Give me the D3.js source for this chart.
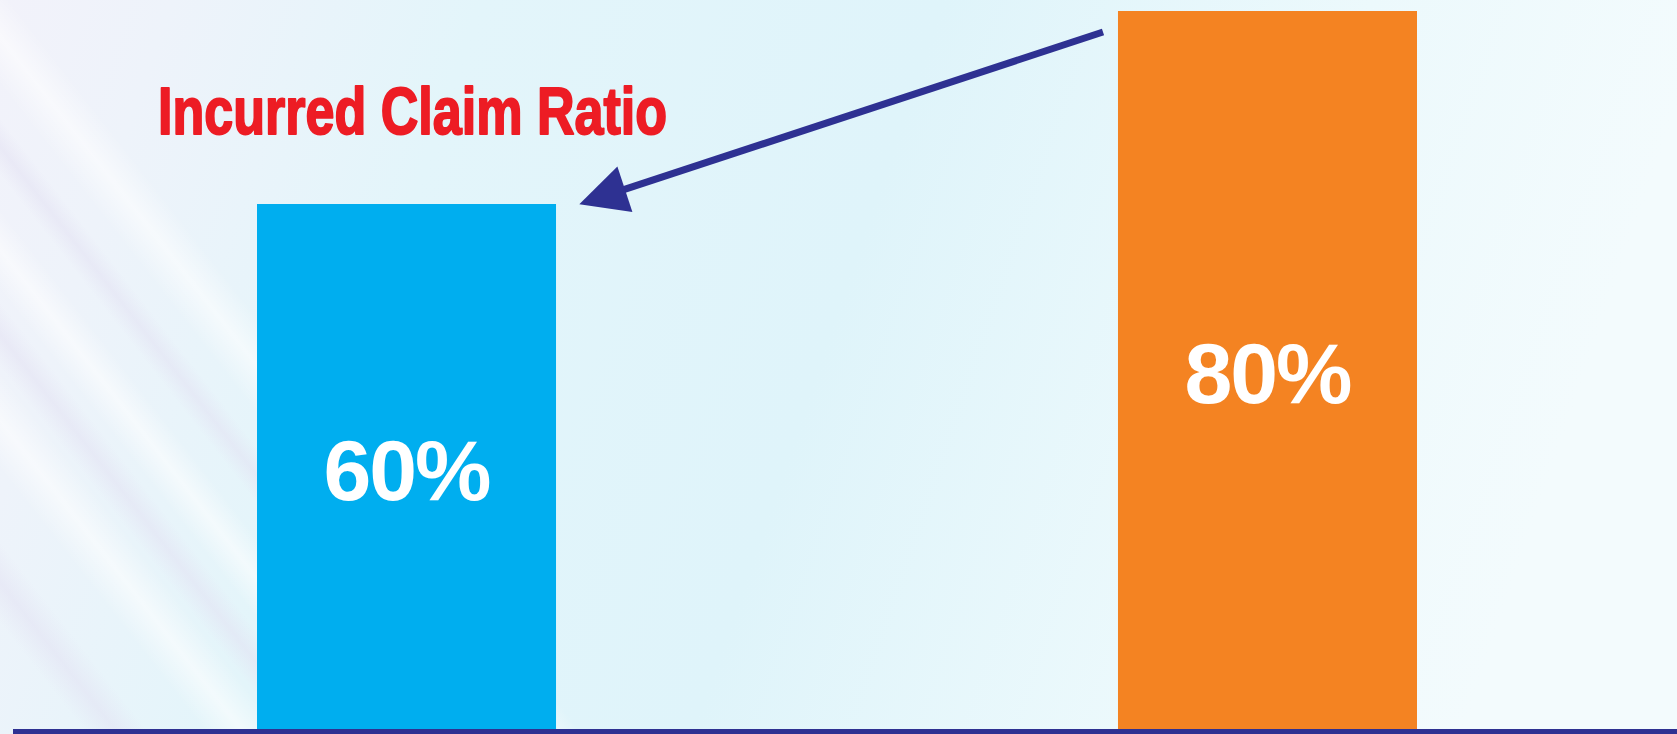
<!DOCTYPE html>
<html>
<head>
<meta charset="utf-8">
<script src="https://cdn.jsdelivr.net/npm/d3@7"></script>
<style>
  html, body { margin: 0; padding: 0; overflow: hidden; background: #eaf7fb; }
  svg { display: block; }
</style>
</head>
<body>
<svg id="chart" width="1677" height="734"></svg>
<script>
// ---- data ----
const categories = ["Bar 1", "Bar 2"];
const values = [60, 80];
const valueLabels = ["60%", "80%"];
const barColors = ["#00aeef", "#f48322"];
const titleText = "Incurred Claim Ratio";

// ---- layout ----
const W = 1677, H = 734;
const baseY = 729;
const svg = d3.select("#chart");
const defs = svg.append("defs");

// background gradient
const bg = defs.append("linearGradient").attr("id", "bg").attr("x1", "0").attr("y1", "0").attr("x2", "1").attr("y2", "0.15");
[["0", "#f2f2fa"], ["0.1", "#eef3fa"], ["0.28", "#e3f5fa"], ["0.55", "#dff4fa"], ["0.8", "#ecf9fc"], ["1", "#f3fbfd"]]
  .forEach(([o, c]) => bg.append("stop").attr("offset", o).attr("stop-color", c));
svg.append("rect").attr("width", W).attr("height", H).attr("fill", "url(#bg)");

// soft diagonal streaks on the left
const streak = defs.append("linearGradient").attr("id", "streak").attr("x1", "0").attr("y1", "0").attr("x2", "1").attr("y2", "0");
streak.append("stop").attr("offset", "0").attr("stop-color", "#ffffff").attr("stop-opacity", 0);
streak.append("stop").attr("offset", "0.5").attr("stop-color", "#ffffff").attr("stop-opacity", 0.55);
streak.append("stop").attr("offset", "1").attr("stop-color", "#ffffff").attr("stop-opacity", 0);
const purple = defs.append("linearGradient").attr("id", "purple").attr("x1", "0").attr("y1", "0").attr("x2", "1").attr("y2", "0");
purple.append("stop").attr("offset", "0").attr("stop-color", "#e2e0f2").attr("stop-opacity", 0);
purple.append("stop").attr("offset", "0.5").attr("stop-color", "#e2e0f2").attr("stop-opacity", 0.5);
purple.append("stop").attr("offset", "1").attr("stop-color", "#e2e0f2").attr("stop-opacity", 0);
const streaks = svg.append("g");
[[-80, 60, "url(#streak)"], [0, 40, "url(#purple)"], [60, 50, "url(#streak)"], [150, 35, "url(#purple)"], [220, 60, "url(#streak)"], [-200, 50, "url(#purple)"]]
  .forEach(([sx, w, f]) => {
    streaks.append("rect").attr("x", sx).attr("y", -300).attr("width", w).attr("height", 1400)
      .attr("fill", f).attr("transform", `rotate(-38, ${sx}, 367)`);
  });

// scales
const x = d3.scaleBand().domain(categories).range([257, 1417]).paddingInner(0.6527).paddingOuter(0);
const y = d3.scaleLinear().domain([5.6, 81.14]).range([baseY, 0]);

// bars
svg.append("g").selectAll("rect").data(values).join("rect")
  .attr("x", (d, i) => x(categories[i]))
  .attr("y", d => y(d))
  .attr("width", x.bandwidth())
  .attr("height", d => baseY - y(d))
  .attr("fill", (d, i) => barColors[i]);

// value labels
const labelBaseline = [500, 403];
svg.append("g").selectAll("text").data(values).join("text")
  .attr("x", (d, i) => x(categories[i]) + x.bandwidth() / 2)
  .attr("y", (d, i) => labelBaseline[i])
  .attr("text-anchor", "middle")
  .style("font-family", "Liberation Sans, Arial, Helvetica, sans-serif")
  .style("font-weight", "700")
  .style("font-size", "86px")
  .style("letter-spacing", "-2px")
  .attr("fill", "#ffffff")
  .text((d, i) => valueLabels[i]);

// axis baseline
svg.append("rect").attr("x", 13).attr("y", baseY).attr("width", W - 13).attr("height", 5).attr("fill", "#2e3192");

// title
svg.append("text")
  .attr("x", 158).attr("y", 134)
  .style("font-family", "Liberation Sans, Arial, Helvetica, sans-serif")
  .style("font-weight", "700")
  .style("font-size", "66px")
  .attr("textLength", 509)
  .attr("lengthAdjust", "spacingAndGlyphs")
  .attr("fill", "#ed1c24")
  .attr("stroke", "#ed1c24")
  .attr("stroke-width", 2)
  .attr("stroke-linejoin", "round")
  .text(titleText);

// arrow from orange bar to blue bar
const tip = [579.3, 204.3];
const start = [1103, 32];
const ang = Math.atan2(start[1] - tip[1], start[0] - tip[0]);
const headLen = 48, headHalf = 24;
const bx = tip[0] + headLen * Math.cos(ang), by = tip[1] + headLen * Math.sin(ang);
const px = -Math.sin(ang) * headHalf, py = Math.cos(ang) * headHalf;
svg.append("line")
  .attr("x1", start[0]).attr("y1", start[1])
  .attr("x2", bx - 10 * Math.cos(ang)).attr("y2", by - 10 * Math.sin(ang))
  .attr("stroke", "#2e3192").attr("stroke-width", 7);
svg.append("path")
  .attr("d", `M${tip[0]},${tip[1]} L${bx + px},${by + py} L${bx - px},${by - py} Z`)
  .attr("fill", "#2e3192");
</script>
</body>
</html>
